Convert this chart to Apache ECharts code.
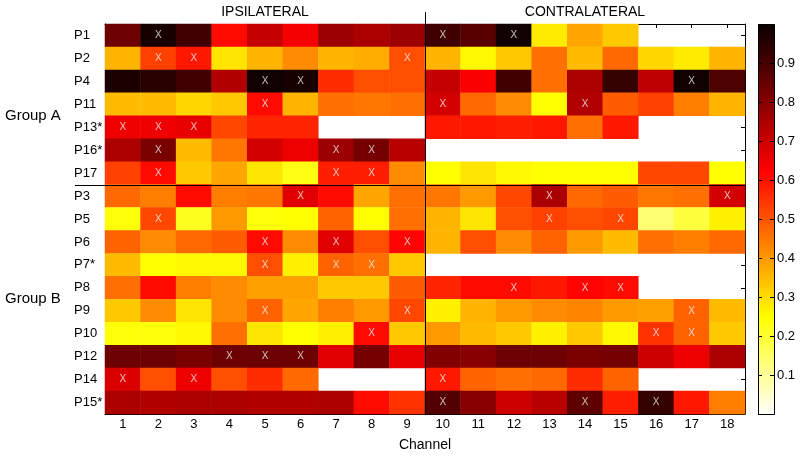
<!DOCTYPE html>
<html><head><meta charset="utf-8">
<script src="https://cdn.jsdelivr.net/npm/echarts@6/dist/echarts.min.js"></script>
<style>html,body{margin:0;padding:0;background:#fff}#c{width:800px;height:456px}</style>
</head><body><div id="c"></div>
<script>
// ---------- data ----------
const channels = ['1','2','3','4','5','6','7','8','9','10','11','12','13','14','15','16','17','18'];
const patients = ['P1','P2','P4','P11','P13*','P16*','P17','P3','P5','P6','P7*','P8','P9','P10','P12','P14','P15*'];
const colorbarTicks = [0.1,0.2,0.3,0.4,0.5,0.6,0.7,0.8,0.9];
const groupLabels = ['Group A','Group B'];
const sideTitles = ['IPSILATERAL','CONTRALATERAL'];

// values per patient, channels 1..18 (null = no data)
const rowP1  = [0.84,0.98,0.91,0.61,0.71,0.64,0.77,0.75,0.77, 0.91,0.87,0.99,0.28,0.38,0.33,null,null,null];
const rowP2  = [0.36,0.53,0.59,0.29,0.36,0.42,0.36,0.37,0.51, 0.36,0.26,0.33,0.46,0.35,0.47,0.31,0.28,0.36];
const rowP4  = [0.97,0.95,0.91,0.74,0.99,0.98,0.56,0.51,0.51, 0.71,0.63,0.91,0.46,0.75,0.93,0.72,0.99,0.89];
const rowP11 = [0.35,0.35,0.31,0.33,0.61,0.36,0.46,0.45,0.46, 0.69,0.47,0.42,0.25,0.74,0.49,0.53,0.44,0.36];
const rowP13 = [0.65,0.65,0.66,0.52,0.57,0.57,null,null,null, 0.59,0.59,0.58,0.59,0.46,0.59,null,null,null];
const rowP16 = [0.75,0.82,0.35,0.45,0.69,0.65,0.77,0.83,0.73, null,null,null,null,null,null,null,null,null];
const rowP17 = [0.53,0.61,0.33,0.38,0.29,0.23,0.58,0.58,0.42, 0.25,0.29,0.26,0.25,0.25,0.25,0.52,0.52,0.25];
const rowP3  = [0.47,0.44,0.61,0.44,0.45,0.67,0.61,0.38,0.46, 0.45,0.40,0.52,0.75,0.47,0.49,0.45,0.46,0.69];
const rowP5  = [0.24,0.52,0.22,0.40,0.24,0.25,0.48,0.25,0.46, 0.36,0.29,0.51,0.53,0.51,0.52,0.14,0.19,0.27];
const rowP6  = [0.48,0.42,0.47,0.49,0.61,0.42,0.67,0.51,0.62, 0.36,0.51,0.42,0.48,0.40,0.35,0.46,0.44,0.47];
const rowP7  = [0.35,0.25,0.26,0.26,0.51,0.27,0.48,0.46,0.33, null,null,null,null,null,null,null,null,null];
const rowP8  = [0.46,0.61,0.44,0.42,0.39,0.39,0.33,0.33,0.49, 0.57,0.61,0.61,0.59,0.62,0.61,null,null,null];
const rowP9  = [0.33,0.42,0.29,0.42,0.48,0.38,0.44,0.40,0.52, 0.27,0.36,0.40,0.42,0.43,0.40,0.39,0.48,0.35];
const rowP10 = [0.24,0.24,0.26,0.46,0.29,0.25,0.27,0.61,0.33, 0.40,0.35,0.33,0.27,0.33,0.26,0.55,0.48,0.33];
const rowP12 = [0.84,0.84,0.82,0.84,0.84,0.84,0.67,0.83,0.66, 0.81,0.80,0.84,0.84,0.82,0.83,0.70,0.65,0.75];
const rowP14 = [0.68,0.51,0.65,0.51,0.56,0.47,null,null,null, 0.59,0.48,0.46,0.47,0.56,0.48,null,null,null];
const rowP15 = [0.75,0.74,0.75,0.75,0.74,0.74,0.75,0.61,0.55, 0.88,0.80,0.70,0.73,0.86,0.58,0.93,0.59,0.44];
const rows = [rowP1,rowP2,rowP4,rowP11,rowP13,rowP16,rowP17,rowP3,rowP5,rowP6,rowP7,rowP8,rowP9,rowP10,rowP12,rowP14,rowP15];

// cells marked with "X": [channel, patient]
const marks = [
  ['2','P1'],['10','P1'],['12','P1'],
  ['2','P2'],['3','P2'],['9','P2'],
  ['5','P4'],['6','P4'],['17','P4'],
  ['5','P11'],['10','P11'],['14','P11'],
  ['1','P13*'],['2','P13*'],['3','P13*'],
  ['2','P16*'],['7','P16*'],['8','P16*'],
  ['2','P17'],['7','P17'],['8','P17'],
  ['6','P3'],['13','P3'],['18','P3'],
  ['2','P5'],['13','P5'],['15','P5'],
  ['5','P6'],['7','P6'],['9','P6'],
  ['5','P7*'],['7','P7*'],['8','P7*'],
  ['12','P8'],['14','P8'],['15','P8'],
  ['5','P9'],['9','P9'],['17','P9'],
  ['8','P10'],['16','P10'],['17','P10'],
  ['4','P12'],['5','P12'],['6','P12'],
  ['1','P14'],['3','P14'],['10','P14'],
  ['10','P15*'],['14','P15*'],['16','P15*']
];

// ---------- style ----------
const FONT = "'Liberation Sans', Arial, sans-serif";
const hotColors = ['#ffffff','#ffff80','#ffff00','#ffaa00','#ff5500','#ff0000','#aa0000','#550000','#0a0000'];
const G  = {left:105, top:24, width:640, height:390};
const CB = {left:758, top:24, width:16, height:390};

const heat = [];
rows.forEach((row, r) => row.forEach((v, c) => { if (v !== null) heat.push([c, r, v]); }));

const chart = echarts.init(document.getElementById('c'));
const axLine = {show:true, lineStyle:{color:'#000', width:1}};
const tickIn = {show:true, inside:true, length:4, alignWithLabel:true, lineStyle:{color:'#000', width:1}};

chart.setOption({
  animation:false,
  textStyle:{fontFamily:FONT},
  grid:[
    {left:G.left, top:G.top, width:G.width, height:G.height, containLabel:false, outerBoundsMode:'none'},
    {left:CB.left, top:CB.top, width:CB.width, height:CB.height, containLabel:false, outerBoundsMode:'none'}
  ],
  xAxis:[
    {type:'category', data:channels, gridIndex:0, position:'bottom', axisLine:axLine, axisTick:tickIn,
     axisLabel:{color:'#000', fontSize:13, margin:4, fontFamily:FONT}, splitLine:{show:false}},
    {type:'category', data:channels, gridIndex:0, position:'top', axisLine:axLine, axisTick:tickIn,
     axisLabel:{show:false}, splitLine:{show:false}},
    {type:'value', gridIndex:1, min:0, max:1, show:false}
  ],
  yAxis:[
    {type:'category', data:patients, inverse:true, gridIndex:0, position:'left', axisLine:axLine, axisTick:tickIn,
     axisLabel:{color:'#000', fontSize:13, align:'left', margin:31, fontFamily:FONT}, splitLine:{show:false}},
    {type:'category', data:patients, inverse:true, gridIndex:0, position:'right', axisLine:axLine, axisTick:tickIn,
     axisLabel:{show:false}, splitLine:{show:false}},
    {type:'value', gridIndex:1, min:0, max:1, interval:0.1, position:'left', axisLine:{show:false},
     axisTick:{show:true, inside:true, length:4, lineStyle:{color:'#000'}}, axisLabel:{show:false}, splitLine:{show:false}},
    {type:'value', gridIndex:1, min:0, max:1, interval:0.1, position:'right', axisLine:{show:false},
     axisTick:{show:true, inside:true, length:4, lineStyle:{color:'#000'}},
     axisLabel:{color:'#000', fontSize:13, margin:3, fontFamily:FONT,
       formatter:v => { const t = colorbarTicks.find(x => Math.abs(x - v) < 1e-6); return t === undefined ? '' : String(t); }},
     splitLine:{show:false}}
  ],
  visualMap:{show:false, type:'continuous', min:0, max:1, dimension:2, seriesIndex:0, inRange:{color:hotColors}},
  series:[
    {type:'heatmap', xAxisIndex:0, yAxisIndex:0, data:heat, itemStyle:{borderWidth:0}, emphasis:{disabled:true}},
    {type:'scatter', xAxisIndex:0, yAxisIndex:0, data:marks, symbolSize:1, itemStyle:{color:'rgba(0,0,0,0)'},
     label:{show:true, position:'inside', formatter:'X', color:'#eeeeee', fontSize:10, fontFamily:FONT},
     emphasis:{disabled:true}, z:5}
  ]
});

// layout helpers from the axes
const px = c => chart.convertToPixel({xAxisIndex:0}, c);
const py = p => chart.convertToPixel({yAxisIndex:0}, p);
const colW = px('2') - px('1');
const rowH = py('P2') - py('P1');
const plotLeft = px('1') - colW/2, plotRight = px('18') + colW/2;
const plotTop = py('P1') - rowH/2, plotBottom = py('P15*') + rowH/2;
const divX = Math.round((px('9') + px('10'))/2) + 0.5;
const divY = Math.round((py('P17') + py('P3'))/2) + 0.5;

chart.setOption({
  graphic:[
    {type:'rect', z:-1, shape:{x:CB.left + 0.5, y:CB.top + 0.5, width:CB.width, height:CB.height},
     style:{fill:new echarts.graphic.LinearGradient(0,1,0,0, hotColors.map((c,i)=>({offset:i/(hotColors.length-1), color:c}))),
            stroke:'#000', lineWidth:1}},
    {type:'line', z:10, shape:{x1:divX, y1:plotTop - 12, x2:divX, y2:plotBottom}, style:{stroke:'#000', lineWidth:1}},
    {type:'line', z:10, shape:{x1:75, y1:divY, x2:plotRight, y2:divY}, style:{stroke:'#000', lineWidth:1}},
    {type:'text', x:(px('1')+px('9'))/2, y:plotTop - 12, style:{text:sideTitles[0], font:'14px '+FONT, fill:'#000', align:'center', verticalAlign:'middle'}},
    {type:'text', x:(px('10')+px('18'))/2, y:plotTop - 12, style:{text:sideTitles[1], font:'14px '+FONT, fill:'#000', align:'center', verticalAlign:'middle'}},
    {type:'text', x:5, y:(py('P11')+py('P13*'))/2, style:{text:groupLabels[0], font:'15px '+FONT, fill:'#000', align:'left', verticalAlign:'middle'}},
    {type:'text', x:5, y:(py('P8')+py('P9'))/2, style:{text:groupLabels[1], font:'15px '+FONT, fill:'#000', align:'left', verticalAlign:'middle'}},
    {type:'text', x:(plotLeft+plotRight)/2, y:plotBottom + 31, style:{text:'Channel', font:'14px '+FONT, fill:'#000', align:'center', verticalAlign:'middle'}}
  ]
});
</script>
</body></html>
